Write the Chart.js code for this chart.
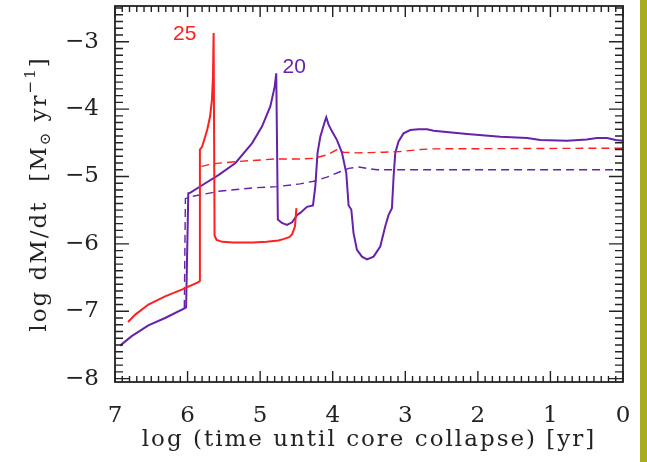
<!DOCTYPE html>
<html>
<head>
<meta charset="utf-8">
<script src="https://cdn.jsdelivr.net/npm/chart.js@4.4.0/dist/chart.umd.min.js"></script>
<style>
html, body { margin: 0; padding: 0; background: #fff; }
#wrap { position: relative; width: 647px; height: 462px; }
</style>
</head>
<body>
<div id="wrap"><canvas id="massLoss" width="647" height="462"></canvas></div>
<script>
// log (time until core collapse) [yr] vs log dM/dt [Msun/yr]

// 25 Msun model, solid (red)
const red25X = [6.82, 6.72, 6.54, 6.31, 6.08, 5.85, 5.83, 5.83, 5.80, 5.73, 5.69, 5.664, 5.65, 5.641, 5.628, 5.60, 5.52, 5.37, 5.10, 4.91, 4.75, 4.68, 4.60, 4.56, 4.52, 4.50];
const red25Y = [-7.16, -7.05, -6.90, -6.78, -6.68, -6.57, -6.55, -4.60, -4.56, -4.31, -4.11, -3.86, -3.52, -2.87, -5.88, -5.94, -5.97, -5.98, -5.98, -5.97, -5.95, -5.93, -5.90, -5.86, -5.74, -5.47];

// 25 Msun model, dashed (red)
const red25dX = [5.81, 5.64, 5.34, 4.79, 4.45, 4.26, 4.08, 3.94, 3.85, 3.67, 3.30, 3.07, 2.79, 2.61, 0.0];
const red25dY = [-4.85, -4.81, -4.78, -4.74, -4.74, -4.73, -4.68, -4.60, -4.64, -4.65, -4.64, -4.63, -4.60, -4.59, -4.58];

// 20 Msun model, solid (purple)
const pur20X = [6.93, 6.77, 6.54, 6.31, 6.03, 6.02, 5.99, 5.96, 5.80, 5.57, 5.34, 5.11, 4.975, 4.86, 4.80, 4.778, 4.756, 4.70, 4.63, 4.56, 4.49,
                4.447, 4.355, 4.272, 4.24, 4.209, 4.171, 4.116, 4.089, 4.057, 4.01, 3.941, 3.872, 3.813, 3.781, 3.744, 3.713, 3.666, 3.597, 3.528,
                3.437, 3.345, 3.276, 3.23, 3.184, 3.161, 3.138, 3.093, 3.024, 2.931, 2.817, 2.70, 2.61, 2.15, 1.69, 1.32, 1.14, 0.77, 0.50, 0.36, 0.22, 0.10, 0.0];
const pur20Y = [-7.51, -7.37, -7.21, -7.10, -6.95, -6.94, -5.25, -5.24, -5.13, -4.975, -4.80, -4.505, -4.26, -3.96, -3.67, -3.47, -5.64, -5.69, -5.72, -5.68, -5.57,
                -5.54, -5.45, -5.43, -5.15, -4.65, -4.41, -4.21, -4.12, -4.23, -4.33, -4.46, -4.65, -4.95, -5.43, -5.49, -5.84, -6.09, -6.19, -6.23,
                -6.19, -6.04, -5.74, -5.57, -5.47, -5.00, -4.65, -4.48, -4.36, -4.31, -4.30, -4.30, -4.32, -4.37, -4.41, -4.43, -4.46, -4.47, -4.45, -4.43, -4.43, -4.46, -4.47];

// 20 Msun model, dashed (purple)
const pur20dX = [6.045, 6.03, 5.96, 5.57, 5.11, 4.77, 4.45, 4.26, 4.08, 3.90, 3.78, 3.64, 3.53, 3.39, 0.0];
const pur20dY = [-6.95, -5.33, -5.30, -5.22, -5.17, -5.15, -5.11, -5.07, -5.01, -4.93, -4.88, -4.86, -4.88, -4.90, -4.90];

// axis ticks
const xTicks = [0, 1, 2, 3, 4, 5, 6, 7];
const yTicks = [-8, -7, -6, -5, -4, -3];
const minorStep = 0.1;

// curve labels (masses)
const massLabels = ['25', '20'];
const massLabelX = [6.04, 4.53];
const massLabelY = [-2.89, -3.38];

const xTitle = 'log (time until core collapse) [yr]';

const RED = '#ff2020';
const PURPLE = '#6622aa';
const AXIS = '#222222';
const SERIF = "'DejaVu Serif', serif";

function pts(xs, ys) {
    return xs.map((x, i) => ({ x: x, y: ys[i] }));
}

function minusLabel(v) {
    return v < 0 ? '\u2212' + Math.abs(v) : String(v);
}

// frame, inward ticks, side bar, axis titles and mass labels
const decorPlugin = {
    id: 'decor',
    beforeDraw(chart) {
        const c = chart.ctx;
        c.save();
        c.fillStyle = '#ffffff';
        c.fillRect(0, 0, chart.width, chart.height);
        c.fillStyle = '#a8ad1e';
        c.fillRect(640, 0, 7, chart.height);
        c.restore();
    },
    afterDraw(chart) {
        const c = chart.ctx;
        const a = chart.chartArea;
        const xs = chart.scales.x;
        const ys = chart.scales.y;
        c.save();
        c.strokeStyle = AXIS;
        c.lineWidth = 1.4;
        c.beginPath();
        // x ticks (bottom and top)
        for (let i = 0; i <= Math.round(7 / minorStep); i++) {
            const px = xs.getPixelForValue(i * minorStep);
            const len = (i % 10 === 0) ? 11 : 6;
            c.moveTo(px, a.bottom); c.lineTo(px, a.bottom - len);
            c.moveTo(px, a.top); c.lineTo(px, a.top + len);
        }
        // y ticks (left and right)
        for (let i = -80; i <= -25; i++) {
            const v = i * minorStep;
            if (v < ys.min || v > ys.max) continue;
            const py = ys.getPixelForValue(v);
            const len = (i % 10 === 0) ? 14 : 8;
            c.moveTo(a.left, py); c.lineTo(a.left + len, py);
            c.moveTo(a.right, py); c.lineTo(a.right - len, py);
        }
        c.stroke();
        c.lineWidth = 1.8;
        c.strokeRect(a.left, a.top, a.right - a.left, a.bottom - a.top);

        // mass labels
        c.font = "21px 'Liberation Sans', sans-serif";
        c.textAlign = 'center';
        c.textBaseline = 'middle';
        massLabels.forEach((t, i) => {
            c.fillStyle = i === 0 ? RED : PURPLE;
            c.fillText(t, xs.getPixelForValue(massLabelX[i]), ys.getPixelForValue(massLabelY[i]));
        });

        // x axis title
        c.fillStyle = AXIS;
        c.font = '23px ' + SERIF;
        c.letterSpacing = '2px';
        c.fillText(xTitle, (a.left + a.right) / 2, 440);

        // y axis title with subscript and superscript
        const big = '23px ' + SERIF;
        const small = '15px ' + SERIF;
        const parts = [
            { t: 'log dM/dt  [M', f: big, dy: 0 },
            { t: '\u2299', f: small, dy: 6 },
            { t: ' yr', f: big, dy: 0 },
            { t: '\u22121', f: small, dy: -9 },
            { t: ']', f: big, dy: 0 }
        ];
        let total = 0;
        parts.forEach(p => { c.font = p.f; p.w = c.measureText(p.t).width; total += p.w; });
        c.translate(40, (a.top + a.bottom) / 2);
        c.rotate(-Math.PI / 2);
        c.textAlign = 'left';
        let cx = -total / 2;
        parts.forEach(p => {
            c.font = p.f;
            c.fillText(p.t, cx, p.dy);
            cx += p.w;
        });
        c.letterSpacing = '0px';
        c.restore();
    }
};

const ctx = document.getElementById('massLoss').getContext('2d');
new Chart(ctx, {
    type: 'line',
    data: {
        datasets: [
            { label: '25 solid', data: pts(red25X, red25Y), borderColor: RED, borderWidth: 2 },
            { label: '25 dashed', data: pts(red25dX, red25dY), borderColor: RED, borderWidth: 1.4, borderDash: [8, 5] },
            { label: '20 solid', data: pts(pur20X, pur20Y), borderColor: PURPLE, borderWidth: 2 },
            { label: '20 dashed', data: pts(pur20dX, pur20dY), borderColor: PURPLE, borderWidth: 1.4, borderDash: [8, 5] }
        ]
    },
    options: {
        responsive: false,
        animation: false,
        parsing: false,
        elements: { point: { radius: 0 }, line: { tension: 0, fill: false } },
        layout: { padding: { top: 6, right: 24, left: 0, bottom: 0 } },
        plugins: { legend: { display: false }, tooltip: { enabled: false } },
        scales: {
            x: {
                type: 'linear',
                min: 0,
                max: 7,
                reverse: true,
                afterBuildTicks: s => { s.ticks = xTicks.map(v => ({ value: v })); },
                afterFit: s => { s.height = 80; s.paddingLeft = 0; s.paddingRight = 0; },
                grid: { display: false },
                border: { display: false },
                ticks: {
                    color: AXIS,
                    font: { family: SERIF, size: 23 },
                    padding: 12,
                    maxRotation: 0,
                    autoSkip: false,
                    callback: v => minusLabel(v)
                }
            },
            y: {
                type: 'linear',
                min: -8.05,
                max: -2.47,
                afterBuildTicks: s => { s.ticks = yTicks.map(v => ({ value: v })); },
                afterFit: s => { s.width = 115; s.paddingTop = 0; s.paddingBottom = 0; },
                grid: { display: false },
                border: { display: false },
                ticks: {
                    color: AXIS,
                    font: { family: SERIF, size: 23 },
                    padding: 8,
                    callback: v => minusLabel(v)
                }
            }
        }
    },
    plugins: [decorPlugin]
});
</script>
</body>
</html>
